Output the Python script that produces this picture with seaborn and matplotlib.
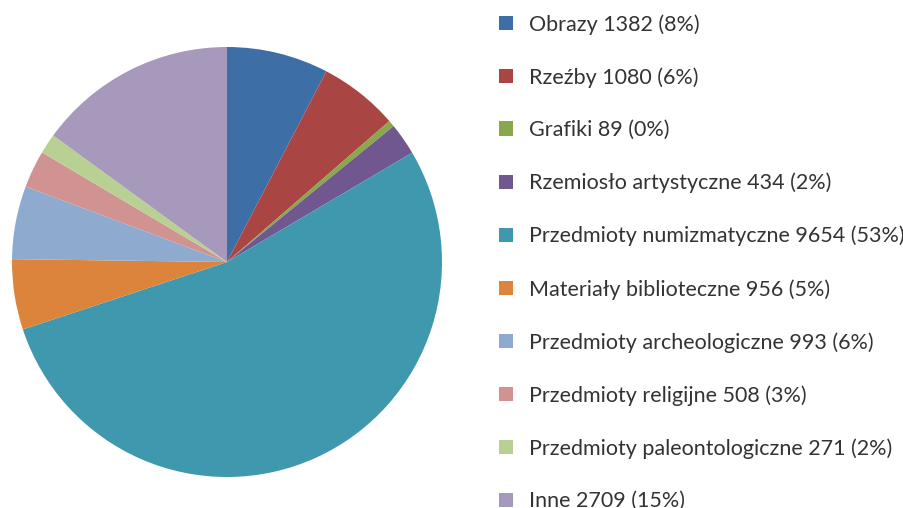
import matplotlib
matplotlib.use('Agg')
import matplotlib.pyplot as plt
import seaborn as sns

# Categories of museum objects and their counts
categories = ['Obrazy', 'Rzeźby', 'Grafiki', 'Rzemiosło artystyczne',
              'Przedmioty numizmatyczne', 'Materiały biblioteczne',
              'Przedmioty archeologiczne', 'Przedmioty religijne',
              'Przedmioty paleontologiczne', 'Inne']
counts = [1382, 1080, 89, 434, 9654, 956, 993, 508, 271, 2709]
percents = [8, 6, 0, 2, 53, 5, 6, 3, 2, 15]

colors = ['#3d6fa6', '#a94543', '#88a84b', '#71578f', '#3f98ae',
          '#dc843c', '#8faacf', '#d09392', '#b8d193', '#a799bb']

sns.set_theme(style='white')
plt.rcParams['font.family'] = ['Lato', 'DejaVu Sans']

fig = plt.figure(figsize=(9.04, 5.08), dpi=100)
ax = fig.add_axes([12 / 904, 31 / 508, 430 / 904, 430 / 508])

wedges, _ = ax.pie(counts, colors=sns.color_palette(colors), startangle=90,
                   counterclock=False, radius=1,
                   wedgeprops=dict(linewidth=0))
ax.set_xlim(-1, 1)
ax.set_ylim(-1, 1)
ax.set_aspect('equal')
ax.axis('off')

labels = [f'{c} {n} ({p}%)' for c, n, p in zip(categories, counts, percents)]
leg = fig.legend(wedges, labels, loc='upper left',
                 bbox_to_anchor=(499 / 904, 1 - 14 / 508),
                 frameon=False, fontsize=15.5, borderpad=0, borderaxespad=0,
                 handlelength=0.65, handleheight=0.65, handletextpad=0.74,
                 labelspacing=1.51)
for t in leg.get_texts():
    t.set_color('#333333')

fig.savefig('out.png', dpi=100)
